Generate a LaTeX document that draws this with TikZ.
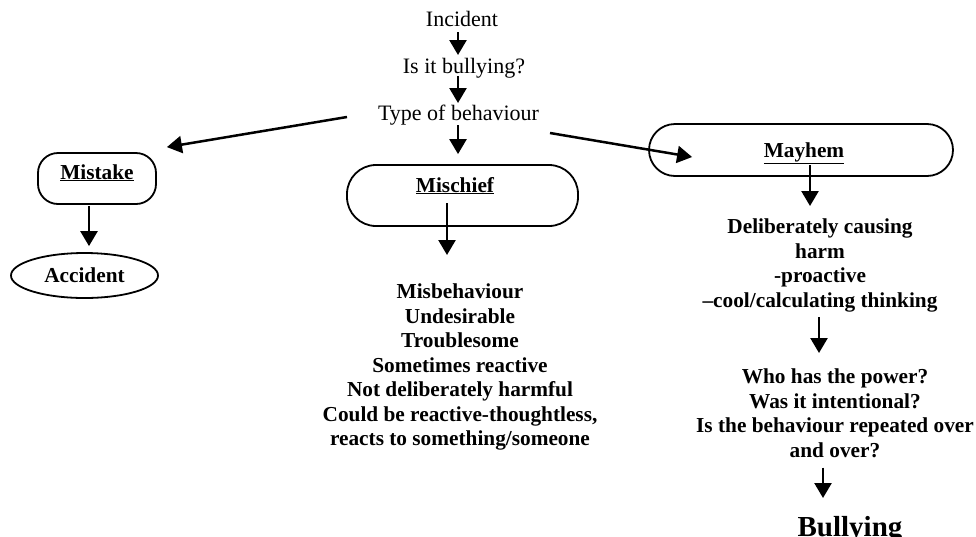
\documentclass[tikz,border=0pt]{standalone}
\usepackage{fontspec}
\setmainfont{Liberation Serif}
\usetikzlibrary{arrows.meta,shapes.geometric,calc}
\begin{document}
\begin{tikzpicture}[x=1pt,y=-1pt,
  txt/.style={inner sep=0pt, anchor=base, font=\fontsize{22}{25}\selectfont},
  btxt/.style={inner sep=0pt, anchor=base, align=center, font=\fontsize{21.3}{24.5}\selectfont\bfseries},
  body/.style={inner sep=0pt, anchor=north, align=center, font=\fontsize{21.3}{24.5}\selectfont\bfseries},
  arr/.style={line width=2.5pt, -{Triangle[length=15pt,width=17pt]}},
  pill/.style={draw, line width=1.8pt, rounded corners=#1, inner sep=0pt}
]
\useasboundingbox (0,0) rectangle (976,536);

% top chain
\node[txt] (inc) at (462,26) {Incident};
\node[txt] (q) at (464,73) {Is it bullying?};
\node[txt] (type) at (458.5,120) {Type of behaviour};

% boxes
\node[pill=20, minimum width=118pt, minimum height=51pt] (mistake) at (97,178.5) {};
\node[btxt] (mistakelbl) at (97,179) {\underline{Mistake}};
\node[ellipse, draw, line width=1.8pt, inner sep=0pt, minimum width=147pt, minimum height=45pt,
      font=\fontsize{21.3}{24.5}\selectfont\bfseries] (acc) at (84.5,275.5) {Accident};

\node[pill=29, minimum width=231pt, minimum height=61pt] (mischief) at (462.5,195.5) {};
\node[btxt] (mischlbl) at (455,192) {\underline{Mischief}};

\node[pill=26, minimum width=304pt, minimum height=52pt] (mayhem) at (801,150) {};
\node[btxt] (mayhemlbl) at (804,157) {\underline{Mayhem}};

% bodies (north = first baseline - 14.4)
\node[body] (mischbody) at (460,283.6) {Misbehaviour\\Undesirable\\Troublesome\\Sometimes reactive\\Not deliberately harmful\\Could be reactive-thoughtless,\\reacts to something/someone};
\node[body] (mayhembody) at (820,218.6) {Deliberately causing\\harm\\-proactive\\–cool/calculating thinking};
\node[body] (quest) at (835,368.6) {Who has the power?\\Was it intentional?\\Is the behaviour repeated over\\and over?};
\node[inner sep=0pt, anchor=base, font=\fontsize{29}{32}\selectfont\bfseries] (bully) at (850,536) {Bullying};

% arrows
\draw[arr] ($(inc.base)+(-4,6)$) -- ($(q.base)+(-6,-18)$);
\draw[arr] ($(q.base)+(-6,3)$) -- ($(type.base)+(-0.5,-17)$);
\draw[arr] ($(type.base)+(-0.5,5)$) -- ($(mischief.north)+(-4.5,-10)$);
\draw[arr] ($(type.base)+(-111.5,-3)$) -- ($(mistake.north east)+(10,-5)$);
\draw[arr] ($(type.base)+(91.5,13)$) -- ($(mayhem.west)+(44,7)$);
\draw[arr] ($(mistake.south)+(-8,1)$) -- ($(acc.north)+(4.5,-6)$);
\draw[arr] ($(mischlbl.base)+(-8,11)$) -- ($(mischbody.north)+(-13,-28.6)$);
\draw[arr] ($(mayhemlbl.base)+(6,8)$) -- ($(mayhembody.north)+(-10,-12.6)$);
\draw[arr] ($(mayhembody.south)+(-1,5.4)$) -- ($(quest.north)+(-16,-15.6)$);
\draw[arr] ($(quest.south)+(-12,10)$) -- ($(bully.base)+(-27,-38)$);
\end{tikzpicture}
\end{document}
